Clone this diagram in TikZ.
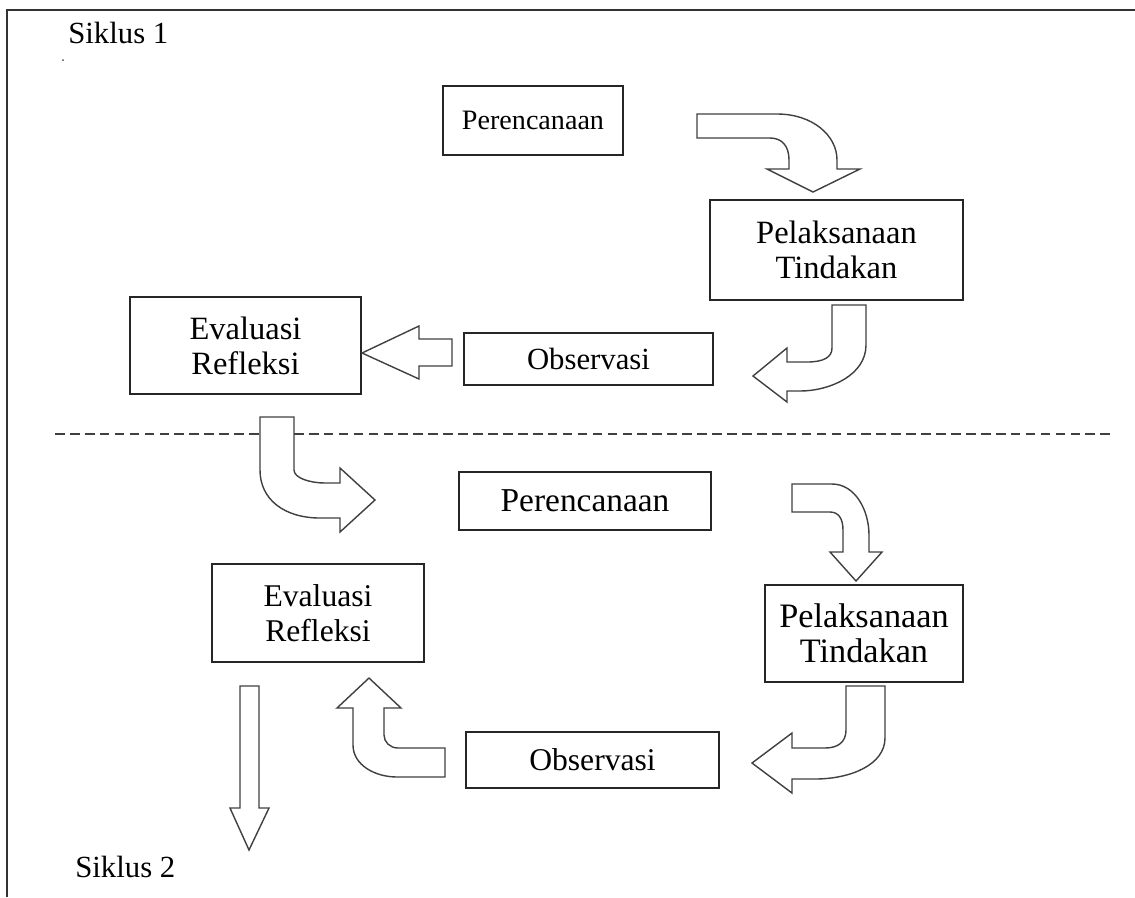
\documentclass[tikz,border=0pt]{standalone}
\usepackage{fontspec}
\setmainfont{Liberation Serif}
\begin{document}
\begin{tikzpicture}[x=0.02cm,y=-0.02cm,
  txt/.style={font=\fontsize{17.5}{21}\selectfont},
  box/.style={draw=black!85,line width=0.9pt,rectangle,inner sep=0pt,align=center},
  fs/.style={font=\fontsize{#1}{20}\selectfont},
  blockarrow/.style={draw=black!75,line width=0.8pt,fill=white,line join=miter}]
\useasboundingbox (0,0) rectangle (1135,897);
\draw[black!80,line width=0.9pt] (7,897) -- (7,10) -- (1135,10);
\node[txt,anchor=base west,inner sep=0pt] (s1) at (68,43) {Siklus 1};
\fill[black!70] (63,60) circle (1);
\node[txt,anchor=base west,inner sep=0pt] (s2) at (75,877) {Siklus 2};
% boxes cycle 1
\node[box,fs=16,minimum width=3.6cm,minimum height=1.38cm] (p1) at (533,120.5) {Perencanaan};
\node[box,fs=18.5,minimum width=5.06cm,minimum height=2.0cm] (t1) at (836.5,250) {Pelaksanaan\\Tindakan};
\node[box,fs=17.5,minimum width=4.98cm,minimum height=1.04cm] (o1) at (588.5,359) {Observasi};
\node[box,fs=18.5,minimum width=4.62cm,minimum height=1.94cm] (e1) at (245.5,345.5) {Evaluasi\\Refleksi};
% dashed separator
\coordinate (dl) at (55,434);
\coordinate (dr) at (1112,434);
\draw[black!75,line width=0.8pt,dash pattern=on 5.5pt off 3pt] (dl) -- (dr);
% boxes cycle 2
\node[box,fs=19,minimum width=5.04cm,minimum height=1.16cm] (p2) at (585,501) {Perencanaan};
\node[box,fs=19.5,minimum width=3.96cm,minimum height=1.94cm] (t2) at (864,633.5) {Pelaksanaan\\Tindakan};
\node[box,fs=18,minimum width=5.06cm,minimum height=1.12cm] (o2) at (592.5,760) {Observasi};
\node[box,fs=18,minimum width=4.24cm,minimum height=1.96cm] (e2) at (318,613) {Evaluasi\\Refleksi};
% block arrows
\draw[blockarrow] (697,114) -- (777,114) .. controls (812,114) and (837,135) .. (837,160) -- (837,169) -- (860,169) -- (813,192) -- (767,169) -- (789,169) -- (789,160) .. controls (789,146) and (782,138) .. (770,138) -- (697,138) -- cycle;
\draw[blockarrow] (832,305) -- (866,305) -- (866,345) .. controls (866,375) and (830,391) .. (800,391) -- (787,391) -- (787,402) -- (753,376) -- (787,348) -- (787,362) -- (807,362) .. controls (824,362) and (832,357) .. (832,348) -- cycle;
\draw[blockarrow] (452,339) -- (452,366) -- (419,366) -- (419,379) -- (362,353) -- (419,326) -- (419,339) -- cycle;
\draw[blockarrow] (260,417) -- (294,417) -- (294,470) .. controls (294,478) and (310,483) .. (325,483) -- (340,483) -- (340,468) -- (375,500) -- (340,532) -- (340,518) -- (320,518) .. controls (285,518) and (260,500) .. (260,470) -- cycle;
\draw[blockarrow] (792,484) -- (832,484) .. controls (855,484) and (869,510) .. (869,535) -- (869,552) -- (882,552) -- (856,581) -- (830,552) -- (843,552) -- (843,530) .. controls (843,518) and (838,512) .. (830,512) -- (792,512) -- cycle;
\draw[blockarrow] (846,686) -- (885,686) -- (885,738) .. controls (885,765) and (850,779) .. (815,779) -- (792,779) -- (792,793) -- (752,763) -- (792,733) -- (792,748) -- (825,748) .. controls (838,748) and (846,742) .. (846,730) -- cycle;
\draw[blockarrow] (445,748) -- (398,748) .. controls (390,748) and (384,742) .. (384,735) -- (384,708) -- (401,708) -- (369,678) -- (337,708) -- (353,708) -- (353,745) .. controls (353,765) and (375,777) .. (397,777) -- (445,777) -- cycle;
\draw[blockarrow] (240,686) -- (259,686) -- (259,808) -- (269,808) -- (249,850) -- (230,808) -- (240,808) -- cycle;
\end{tikzpicture}
\end{document}
